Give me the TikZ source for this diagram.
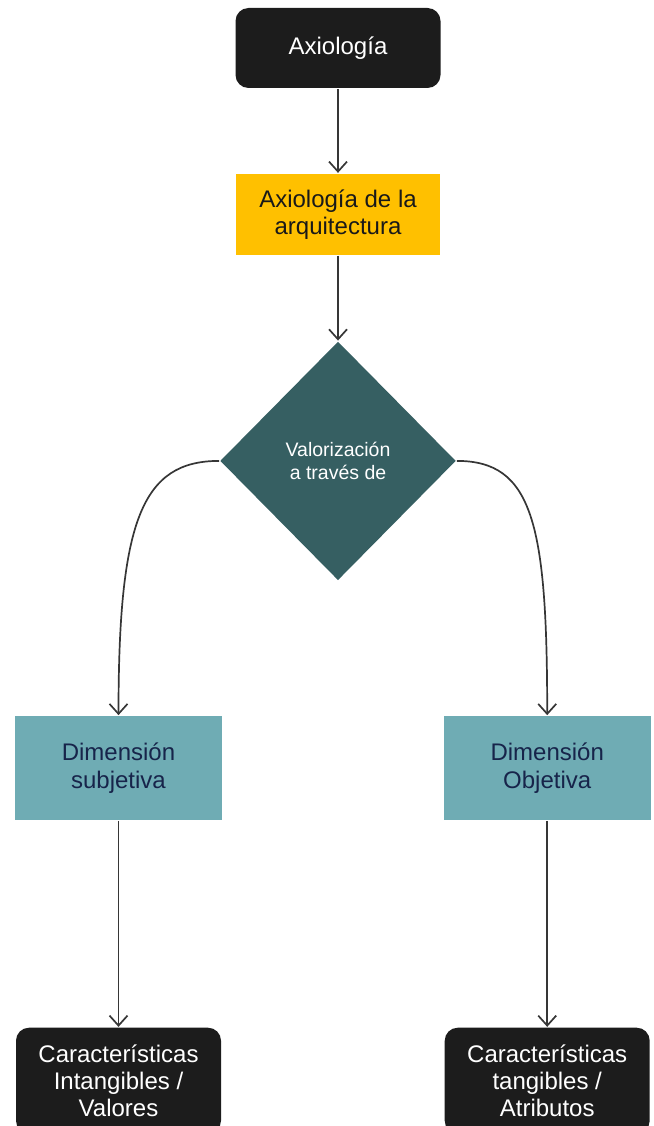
\documentclass[tikz,border=0pt]{standalone}
\usepackage{fontspec}
\setmainfont{Liberation Sans}
\usetikzlibrary{arrows.meta,positioning,shapes.geometric}
\definecolor{boxblack}{HTML}{1C1C1C}
\definecolor{boxgold}{HTML}{FFC000}
\definecolor{boxslate}{HTML}{365F62}
\definecolor{boxteal}{HTML}{6FACB4}
\definecolor{textnavy}{HTML}{17244A}
\definecolor{linegray}{HTML}{363636}

\begin{document}
\begin{tikzpicture}[->,>={Straight Barb[length=10pt,width=18pt]},line width=1.7pt,
  every edge/.style={draw=linegray},
  darkbox/.style={rectangle,rounded corners=13pt,fill=boxblack,text=white,inner sep=0pt,
    align=center,font=\fontsize{24pt}{27pt}\selectfont},
  goldbox/.style={rectangle,fill=boxgold,text=black!90,inner sep=0pt,minimum width=204pt,
    minimum height=81pt,align=center,font=\fontsize{24pt}{27pt}\selectfont},
  valbox/.style={diamond,fill=boxslate,text=white,inner sep=0pt,minimum width=236pt,
    minimum height=239pt,align=center,font=\fontsize{19.5pt}{22.5pt}\selectfont},
  dimbox/.style={rectangle,fill=boxteal,text=textnavy,inner sep=0pt,minimum height=104pt,
    align=center,font=\fontsize{24pt}{28pt}\selectfont}]
  \useasboundingbox (0,0) rectangle (653pt,-1126pt);

  \node[darkbox,minimum width=205pt,minimum height=80pt] (axio) at (338pt,-48pt) {Axiología};
  \node[goldbox]  (arq)  [below=84pt of axio] {Axiología de la\\arquitectura};
  \node[valbox]   (val)  [below=85pt of arq]  {Valorización\\a través de};
  \node[dimbox,minimum width=207pt] (subj) at (118.5pt,-768pt) {Dimensión\\subjetiva};
  \node[dimbox,minimum width=207pt] (obj)  [right=220pt of subj] {Dimensión\\Objetiva};
  \node[darkbox,minimum width=205pt,minimum height=106pt] (intan) [below=206pt of subj]
    {Características\\Intangibles /\\Valores};
  \node[darkbox,minimum width=205pt,minimum height=106pt] (tang)  [below=206pt of obj]
    {Características\\tangibles /\\Atributos};

  \path (axio) edge (arq)
        (arq)  edge (val)
        (val.west) edge[out=180,in=90,out looseness=0.72,in looseness=1.82] (subj.north)
        (val.east) edge[out=0,in=90,out looseness=0.72,in looseness=1.82] (obj.north)
        (subj) edge (intan)
        (obj)  edge (tang)
  ;
\end{tikzpicture}
\end{document}
